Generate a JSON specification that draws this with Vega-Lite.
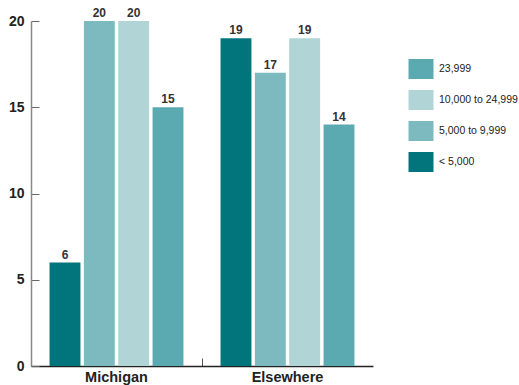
{
  "$schema": "https://vega.github.io/schema/vega-lite/v6.json",
  "width": 342,
  "height": 345,
  "autosize": "none",
  "padding": {"left": 31, "top": 21, "right": 146, "bottom": 19},
  "background": "white",
  "config": {
    "view": {"stroke": null},
    "font": "Liberation Sans"
  },
  "data": {
    "values": [
      {"place": "Michigan", "size": "< 5,000", "order": 1, "count": 6},
      {"place": "Michigan", "size": "5,000 to 9,999", "order": 2, "count": 20},
      {"place": "Michigan", "size": "10,000 to 24,999", "order": 3, "count": 20},
      {"place": "Michigan", "size": "23,999", "order": 4, "count": 15},
      {"place": "Elsewhere", "size": "< 5,000", "order": 1, "count": 19},
      {"place": "Elsewhere", "size": "5,000 to 9,999", "order": 2, "count": 17},
      {"place": "Elsewhere", "size": "10,000 to 24,999", "order": 3, "count": 19},
      {"place": "Elsewhere", "size": "23,999", "order": 4, "count": 14}
    ]
  },
  "encoding": {
    "x": {
      "field": "place",
      "type": "nominal",
      "sort": ["Michigan", "Elsewhere"],
      "scale": {"paddingInner": 0, "paddingOuter": 0},
      "axis": {
        "title": null,
        "labelAngle": 0,
        "bandPosition": 0,
        "domainColor": "#222222",
        "domainWidth": 1.5,
        "tickColor": "#555555",
        "tickSize": -8,
        "tickWidth": 1,
        "labelFont": "Liberation Sans",
        "labelFontWeight": "bold",
        "labelFontSize": 14.5,
        "labelColor": "#222222",
        "labelPadding": 12
      }
    },
    "xOffset": {
      "field": "size",
      "type": "nominal",
      "sort": ["< 5,000", "5,000 to 9,999", "10,000 to 24,999", "23,999"],
      "scale": {"paddingInner": 0.1, "paddingOuter": 0.54}
    },
    "y": {
      "field": "count",
      "type": "quantitative",
      "scale": {"domain": [0, 20], "nice": false},
      "axis": {
        "title": null,
        "values": [0, 5, 10, 15, 20],
        "grid": false,
        "domainColor": "#888888",
        "domainWidth": 1.5,
        "tickColor": "#666666",
        "tickSize": -8,
        "tickWidth": 1,
        "labelFont": "Liberation Sans",
        "labelFontWeight": "bold",
        "labelFontSize": 14,
        "labelColor": "#222222",
        "labelPadding": 15
      }
    }
  },
  "layer": [
    {
      "mark": {"type": "bar"},
      "encoding": {
        "color": {
          "field": "size",
          "type": "nominal",
          "sort": ["23,999", "10,000 to 24,999", "5,000 to 9,999", "< 5,000"],
          "scale": {
            "domain": ["23,999", "10,000 to 24,999", "5,000 to 9,999", "< 5,000"],
            "range": ["#5CAAB1", "#B1D5D7", "#7CBAC0", "#02747B"]
          },
          "legend": {
            "title": null,
            "orient": "none",
            "legendX": 380,
            "legendY": 38,
            "symbolType": "M-1.25,-1L1.25,-1L1.25,1L-1.25,1Z",
            "symbolSize": 400,
            "symbolStrokeWidth": 0,
            "symbolOpacity": 1,
            "rowPadding": 11,
            "labelFont": "Liberation Sans",
            "labelFontSize": 10.5,
            "labelColor": "#222222",
            "labelOffset": 8
          }
        }
      }
    },
    {
      "mark": {
        "type": "text",
        "dy": -8,
        "font": "Liberation Sans",
        "fontWeight": "bold",
        "fontSize": 12,
        "color": "#333333"
      },
      "encoding": {
        "text": {"field": "count", "type": "quantitative"}
      }
    }
  ]
}
